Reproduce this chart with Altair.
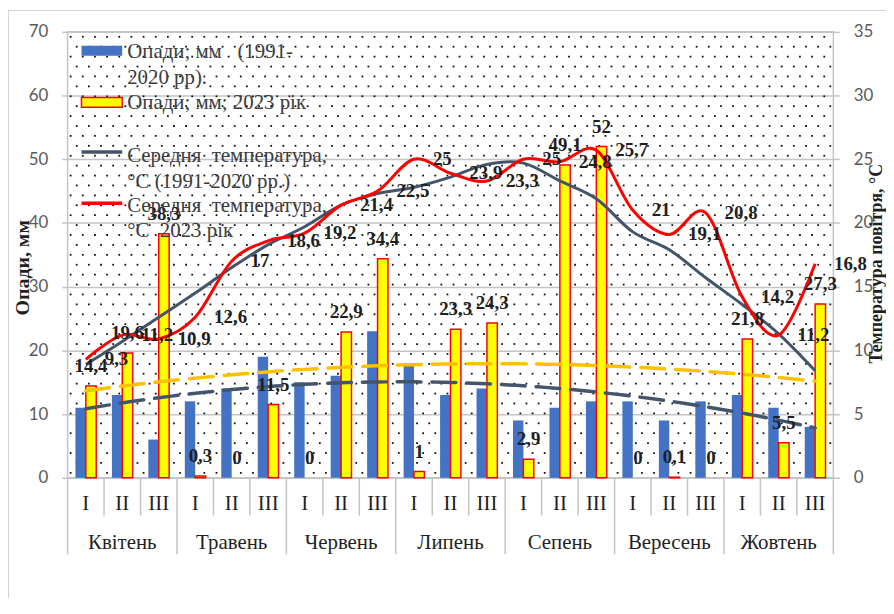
import altair as alt
import pandas as pd

# ---------------- data ----------------
months = ["Квітень", "Травень", "Червень", "Липень", "Сепень", "Вересень", "Жовтень"]
decades = ["I", "II", "III"]
precip_norm = [11, 13, 6, 12, 14, 19, 15, 16, 23, 18, 13, 14, 9, 11, 12, 12, 9, 12, 13, 11, 8]
precip_2023 = [14.4, 19.6, 38.3, 0.3, 0, 11.5, 0, 22.9, 34.4, 1, 23.3, 24.3, 2.9, 49.1, 52, 0, 0.1, 0, 21.8, 5.5, 27.3]
temp_norm = [8.9, 10.7, 12.6, 14.5, 16.5, 18.3, 19.7, 21.4, 22.3, 22.8, 23.6, 24.6, 24.7, 23.3, 21.9, 19.3, 17.9, 15.7, 13.6, 11.3, 8.4]
temp_2023 = [9.3, 11.2, 10.9, 12.6, 17, 18.6, 19.2, 21.4, 22.5, 25, 23.9, 23.3, 25, 24.8, 25.7, 21, 19.1, 20.8, 14.2, 11.2, 16.8]

S_NORM = "Опади; мм (1991-2020 рр)."
S_2023 = "Опади; мм; 2023 рік"
legend_entries = [
    ["Опади; мм\u00a0\u00a0 (1991-", "2020 рр)."],
    ["Опади; мм; 2023 рік"],
    ["Середня\u00a0 температура,", "°С (1991-2020 рр.)"],
    ["Середня\u00a0 температура,", "°С\u00a0 2023 рік"],
]
y_title_left = "Опади, мм"
y_title_right = "Температура повітря, °С"

# ---------------- tables ----------------
def fmt(v):
    return f"{v:g}".replace(".", ",")

cats = [f"{m} {d}" for m in months for d in decades]
df = pd.DataFrame({
    "cat": cats,
    "idx": list(range(len(cats))),
    "month": [m for m in months for d in decades],
    "dec": [d for m in months for d in decades],
    "tn": temp_norm,
    "t23": temp_2023,
    "t23lab": [fmt(v) for v in temp_2023],
})
bars_df = pd.concat([
    pd.DataFrame({"cat": cats, "idx": df["idx"], "series": S_NORM, "mm": precip_norm,
                  "lab": [fmt(v) for v in precip_norm]}),
    pd.DataFrame({"cat": cats, "idx": df["idx"], "series": S_2023, "mm": precip_2023,
                  "lab": [fmt(v) for v in precip_2023]}),
], ignore_index=True)

# ---------------- style ----------------
W, H = 771, 449
SERIF = "Liberation Serif, Times New Roman, serif"
SANS = "Lato"
GRID = "#c4c4c4"
LABEL_C = "#1f1f1f"
TEXT_C = "#3c3c3c"

xq_scale = alt.Scale(domain=[-0.5, 20.5], nice=False, zero=False)
xb_scale = alt.Scale(domain=cats, paddingInner=0.43, paddingOuter=0.215)
xo_scale = alt.Scale(domain=[S_NORM, S_2023], paddingInner=0, paddingOuter=0)
ymm = alt.Scale(domain=[0, 70], nice=False, zero=True)
yt = alt.Scale(domain=[0, 35], nice=False, zero=True)

one = pd.DataFrame({"k": [0]})

# dotted background pattern (decoration)
NC, NR = 63, 45
dots = alt.Chart(alt.sequence(0, NC * NR, as_="i")).transform_calculate(
    col=f"datum.i % {NC}", row=f"floor(datum.i / {NC})"
).transform_calculate(
    px="(datum.col + 0.25 + (datum.row % 2) * 0.5) / 3 - 0.5",
    py=f"(datum.row + 0.5) * 70 / {NR}",
).mark_square(size=3.2, color="#000000", opacity=0.95).encode(
    x=alt.X("px:Q", scale=xq_scale, axis=None),
    y=alt.Y("py:Q", scale=ymm, axis=None),
)

left_axis = alt.Axis(
    values=list(range(0, 71, 10)), grid=True, gridColor=GRID, gridWidth=1.5,
    domain=False, ticks=True, tickSize=6, tickColor=GRID, tickWidth=1.5,
    labelFont=SANS, labelFontSize=17, labelColor="#595959", labelPadding=14,
    title=y_title_left, titleFont=SERIF, titleFontSize=20, titleFontWeight="bold",
    titleColor=LABEL_C, titleAngle=270, titleX=-45, titleY=237,
    titleBaseline="middle", titleAlign="center",
)
right_axis = alt.Axis(
    orient="right", values=list(range(0, 36, 5)), grid=False,
    domain=False, ticks=True, tickSize=6, tickColor=GRID, tickWidth=1.5,
    labelFont=SANS, labelFontSize=17, labelColor="#595959", labelPadding=14,
    title=y_title_right, titleFont=SERIF, titleFontSize=18, titleFontWeight="bold",
    titleColor=LABEL_C, titleAngle=270, titleX=43, titleY=233,
    titleBaseline="middle", titleAlign="center",
)

bars = alt.Chart(bars_df).transform_filter("datum.mm > 0").mark_bar(strokeWidth=1.5).encode(
    x=alt.X("cat:N", sort=cats, scale=xb_scale, axis=None),
    xOffset=alt.XOffset("series:N", scale=xo_scale),
    y=alt.Y("mm:Q", scale=ymm, axis=left_axis),
    fill=alt.Fill("series:N", scale=alt.Scale(domain=[S_NORM, S_2023], range=["#4472C4", "#FFFF00"]), legend=None),
    stroke=alt.Stroke("series:N", scale=alt.Scale(domain=[S_NORM, S_2023], range=["transparent", "#FF0000"]), legend=None),
)

trend = alt.Chart(bars_df).transform_regression(
    "idx", "mm", groupby=["series"], method="poly", order=2, extent=[0, 20]
).mark_line(strokeWidth=3.5, strokeDash=[24, 11], strokeCap="round").encode(
    x=alt.X("idx:Q", scale=xq_scale, axis=None),
    y=alt.Y("mm:Q", scale=ymm, axis=None),
    color=alt.Color("series:N", scale=alt.Scale(domain=[S_NORM, S_2023], range=["#44546A", "#FFC000"]), legend=None),
)

line_norm = alt.Chart(df).mark_line(color="#44546A", strokeWidth=3, interpolate="cardinal").encode(
    x=alt.X("idx:Q", scale=xq_scale, axis=None),
    y=alt.Y("tn:Q", scale=yt, axis=None),
)
line_23 = alt.Chart(df).mark_line(color="#FF0000", strokeWidth=3, interpolate="cardinal").encode(
    x=alt.X("idx:Q", scale=xq_scale, axis=None),
    y=alt.Y("t23:Q", scale=yt, axis=right_axis),
)

lab_bars = alt.Chart(bars_df).transform_filter(f"datum.series == '{S_2023}'").mark_text(
    font=SERIF, fontSize=19, fontWeight="bold", color=LABEL_C, baseline="middle", dy=-20
).encode(
    x=alt.X("cat:N", sort=cats, scale=xb_scale, axis=None),
    xOffset=alt.XOffset("series:N", scale=xo_scale),
    y=alt.Y("mm:Q", scale=ymm, axis=None),
    text="lab:N",
)
lab_temp = alt.Chart(df).mark_text(
    font=SERIF, fontSize=19, fontWeight="bold", color=LABEL_C, baseline="middle", align="left", dx=19
).encode(
    x=alt.X("idx:Q", scale=xq_scale, axis=None),
    y=alt.Y("t23:Q", scale=yt, axis=None),
    text="t23lab:N",
)

# category axis (two levels)
xr = alt.X("edge:Q", scale=xq_scale, axis=None)
sep_short = alt.Chart(df).transform_filter("datum.dec != 'I'").transform_calculate(
    edge="datum.idx - 0.5").mark_rule(color=GRID, strokeWidth=1.5).encode(
    x=xr, y=alt.value(H), y2=alt.value(H + 38))
sep_long = alt.Chart(df).transform_filter("datum.dec == 'I'").transform_calculate(
    edge="datum.idx - 0.5").mark_rule(color=GRID, strokeWidth=1.5).encode(
    x=xr, y=alt.value(H), y2=alt.value(H + 77))
sep_end = alt.Chart(df).transform_filter(f"datum.idx == {len(cats) - 1}").transform_calculate(
    edge="datum.idx + 0.5").mark_rule(color=GRID, strokeWidth=1.5).encode(
    x=xr, y=alt.value(H), y2=alt.value(H + 77))
dec_lab = alt.Chart(df).mark_text(font=SERIF, fontSize=21, color=LABEL_C, baseline="middle").encode(
    x=alt.X("idx:Q", scale=xq_scale, axis=None), y=alt.value(H + 26), text="dec:N")
mon_lab = alt.Chart(df).transform_filter("datum.dec == 'II'").mark_text(
    font=SERIF, fontSize=21, color=LABEL_C, baseline="middle").encode(
    x=alt.X("idx:Q", scale=xq_scale, axis=None), y=alt.value(H + 66), text="month:N")

# legend (inside plot, top-left)
leg = [
    alt.Chart(one).mark_rect(color="#4472C4").encode(
        x=alt.value(14), x2=alt.value(55), y=alt.value(14), y2=alt.value(24)),
    alt.Chart(one).mark_rect(fill="#FFFF00", stroke="#FF0000", strokeWidth=1.5).encode(
        x=alt.value(14), x2=alt.value(55), y=alt.value(66), y2=alt.value(76)),
    alt.Chart(one).mark_rule(color="#44546A", strokeWidth=3.5).encode(
        x=alt.value(14), x2=alt.value(55), y=alt.value(121)),
    alt.Chart(one).mark_rule(color="#FF0000", strokeWidth=3.5).encode(
        x=alt.value(14), x2=alt.value(55), y=alt.value(172.5)),
]
entry_y = [20, 71.5, 125, 175]
for lines, y0 in zip(legend_entries, entry_y):
    for j, line in enumerate(lines):
        leg.append(alt.Chart(one).mark_text(
            font=SERIF, fontSize=21, color=TEXT_C, align="left", baseline="middle").encode(
            x=alt.value(60), y=alt.value(y0 + 26 * j), text=alt.value(line)))

frame = [
    alt.Chart(one).mark_rule(color="#d4d4d4", strokeWidth=1).encode(
        x=alt.value(-59.5), y=alt.value(-22), y2=alt.value(H + 130)),
    alt.Chart(one).mark_rule(color="#d4d4d4", strokeWidth=1).encode(
        x=alt.value(-60), x2=alt.value(W + 60), y=alt.value(-21.5)),
]

chart = alt.layer(
    dots, bars, trend, line_norm, line_23, lab_bars, lab_temp,
    sep_short, sep_long, sep_end, dec_lab, mon_lab, *leg, *frame
).resolve_scale(
    x="independent", y="independent"
).properties(
    width=W, height=H,
    autosize=alt.AutoSizeParams(type="none"),
    padding={"left": 60, "top": 22, "right": 53, "bottom": 119},
    background="white",
).configure_view(stroke=GRID, strokeWidth=1.5)

chart.save("out.html", embed_options={"renderer": "svg", "actions": False})
